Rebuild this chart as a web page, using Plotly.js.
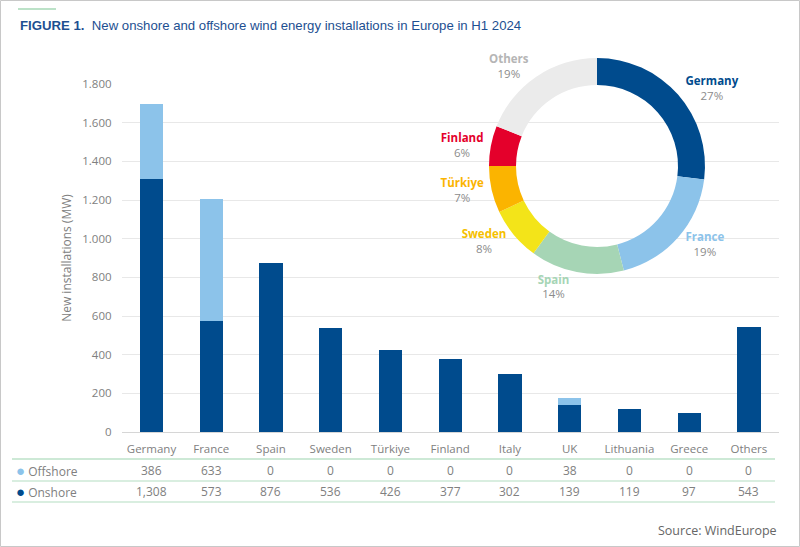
<!DOCTYPE html>
<html>
<head>
<meta charset="utf-8">
<script src="https://cdn.plot.ly/plotly-3.0.1.min.js"></script>
<style>html,body{margin:0;padding:0;background:#fff;}#chart{width:800px;height:547px;}</style>
</head>
<body>
<div id="chart"></div>
<script>
// ---- data ----
const categories = ['Germany','France','Spain','Sweden','Türkiye','Finland','Italy','UK','Lithuania','Greece','Others'];
const offshore = [386,633,0,0,0,0,0,38,0,0,0];
const onshore = [1308,573,876,536,426,377,302,139,119,97,543];
const seriesNames = ['Offshore','Onshore'];
const pieLabels = ['Germany','France','Spain','Sweden','Türkiye','Finland','Others'];
const pieShares = [27,19,14,8,7,6,19];

// ---- styles ----
const DARK = '#004b8d', LIGHT = '#8cc3ea';
const pieColors = ['#004b8d','#8cc3ea','#a6d5b5','#f3e419','#fbb400','#e4002b','#ebebeb'];
const pieTextColors = ['#004b8d','#8cc3ea','#a6d5b5','#f5c000','#fbb400','#e4002b','#b5b5b5'];
const FONT = '"Open Sans", sans-serif';
const GREY = '#808080';
const W = 800, H = 547;
const px = x => x / W, py = y => 1 - y / H;
const fmt = n => String(n).replace(/\B(?=(\d{3})+(?!\d))/g, ',');

const traces = [
  {type:'bar', name:'Onshore', x:categories, y:onshore, marker:{color:DARK}, hoverinfo:'skip'},
  {type:'bar', name:'Offshore', x:categories, y:offshore, marker:{color:LIGHT}, hoverinfo:'skip'},
  {type:'pie', labels:pieLabels, values:pieShares, sort:false, direction:'clockwise', rotation:0,
   hole:0.75, marker:{colors:pieColors, line:{width:0}},
   text: pieLabels.map((l,i)=>'<span style="color:'+pieTextColors[i]+'"><b>'+l+'</b></span>'),
   texttemplate:'%{text}<br>%{percent:.0%}', textposition:'outside',
   outsidetextfont:{family:FONT, size:11.5, color:'#8c8c8c'},
   domain:{x:[px(489), px(705)], y:[py(274), py(58)]}, hoverinfo:'skip', showlegend:false}
];

const annotations = [];
// title
annotations.push({xref:'paper', yref:'paper', x:px(18), y:py(26), xanchor:'left', yanchor:'middle', showarrow:false,
  text:'<b>FIGURE 1.</b>\u00a0\u00a0New onshore and offshore wind energy installations in Europe in H1 2024',
  font:{family:'"Liberation Sans", Arial, sans-serif', size:13.2, color:'#1d4f91'}});
// table rows
const rows = [{name:seriesNames[0], vals:offshore, color:LIGHT, y:470},{name:seriesNames[1], vals:onshore, color:DARK, y:491}];
rows.forEach(r=>{
  annotations.push({xref:'paper', yref:'paper', x:px(14), y:py(r.y), xanchor:'left', yanchor:'middle', showarrow:false,
    text:'<span style="color:'+r.color+';font-size:15px">●</span> '+r.name, font:{family:FONT, size:12, color:GREY}});
  categories.forEach((c,i)=>{
    annotations.push({xref:'x', yref:'paper', x:c, y:py(r.y), xanchor:'center', yanchor:'middle', showarrow:false,
      text:fmt(r.vals[i]), font:{family:FONT, size:12, color:GREY}});
  });
});
// source
annotations.push({xref:'paper', yref:'paper', x:px(779), y:py(530), xanchor:'right', yanchor:'middle', showarrow:false,
  text:'Source: WindEurope', font:{family:FONT, size:12.5, color:'#666'}});

const GREEN = '#cde9d6';
const shapes = [
  {type:'rect', xref:'paper', yref:'paper', x0:px(0.5), x1:px(799.5), y0:py(546.5), y1:py(0.5), line:{color:'#c8c8c8', width:1}},
  {type:'line', xref:'paper', yref:'paper', x0:px(18), x1:px(56), y0:py(9), y1:py(9), line:{color:'#a6d8b6', width:1.5}},
  {type:'line', xref:'paper', yref:'paper', x0:px(12), x1:px(775), y0:py(459), y1:py(459), line:{color:GREEN, width:2}},
  {type:'line', xref:'paper', yref:'paper', x0:px(12), x1:px(775), y0:py(481), y1:py(481), line:{color:GREEN, width:1.5}},
  {type:'line', xref:'paper', yref:'paper', x0:px(12), x1:px(775), y0:py(502), y1:py(502), line:{color:GREEN, width:1.5}},
  // white backdrop behind the donut (hides gridlines)
  {type:'rect', xref:'x', yref:'y', x0:4.8, x1:9.75, y0:760, y1:1900, layer:'below', fillcolor:'#fff', line:{width:0}}
];

const layout = {
  width:W, height:H, margin:{l:0,r:0,t:0,b:0}, paper_bgcolor:'#fff', plot_bgcolor:'rgba(0,0,0,0)',
  showlegend:false, barmode:'stack', bargap:0.61, separators:',.',
  font:{family:FONT, size:12, color:GREY},
  xaxis:{domain:[px(121.6), px(778.8)], type:'category', showgrid:false, zeroline:false, showline:true, linecolor:'#d6d6d6', linewidth:1,
    ticks:'', tickfont:{family:FONT, size:11.5, color:GREY}, ticklabelstandoff:6, fixedrange:true},
  yaxis:{domain:[py(432), py(84)], range:[0,1800], dtick:200, tickformat:',d', showgrid:true, gridcolor:'#e8e8e8', gridwidth:1,
    zeroline:false, ticks:'', tickfont:{family:FONT, size:11.5, color:GREY}, ticklabelstandoff:9, fixedrange:true,
    title:{text:'New installations (MW)', font:{family:FONT, size:12, color:GREY}, standoff:8}},
  annotations, shapes
};

Plotly.newPlot('chart', traces, layout, {displayModeBar:false, staticPlot:true});
</script>
</body>
</html>
